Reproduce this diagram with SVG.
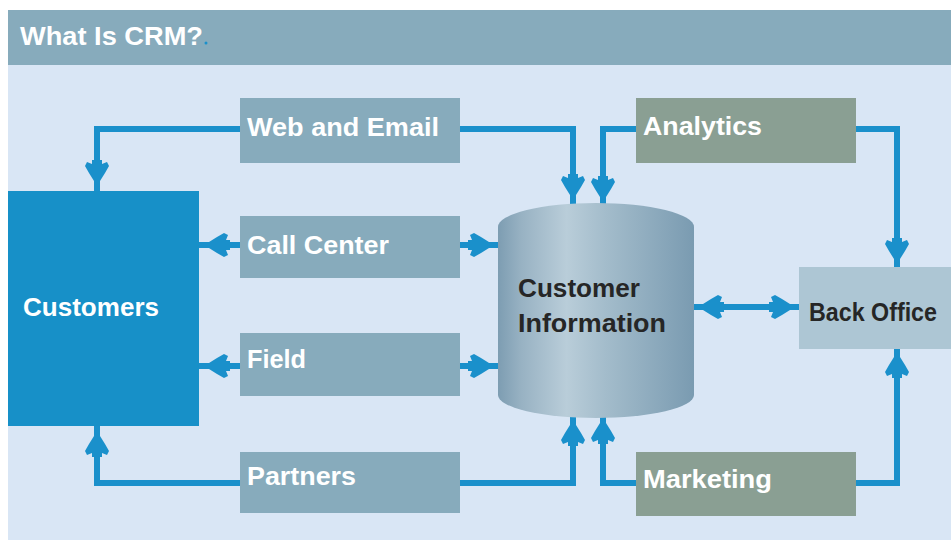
<svg xmlns="http://www.w3.org/2000/svg" width="951" height="540" viewBox="0 0 951 540">
<style>
.box{fill:#87abbc}
.grn{fill:#8a9f93}
.lbl{font-family:"Liberation Sans",Arial,sans-serif;font-weight:bold;font-size:26px;fill:#ffffff}
.dk{fill:#262626}
.conn{fill:none;stroke:#1a90cb;stroke-width:6}
</style>
<defs>
<marker id="ah" markerWidth="40" markerHeight="30" refX="0" refY="0" orient="auto-start-reverse" markerUnits="userSpaceOnUse" overflow="visible">
<path d="M2,-3 L-8,-3 L-16,-8 L-23,-12 L-27,-10 L-25,-5 L-29,-5 L-29,5 L-25,5 L-27,10 L-23,12 L-16,8 L-8,3 L2,3 Z" fill="#1a90cb"/>
</marker>
<linearGradient id="cyl" x1="0" y1="0" x2="1" y2="0">
<stop offset="0" stop-color="#7d9db2"/>
<stop offset="0.12" stop-color="#98b2c3"/>
<stop offset="0.35" stop-color="#b9cdd9"/>
<stop offset="0.55" stop-color="#a3bccb"/>
<stop offset="1" stop-color="#7a9bb1"/>
</linearGradient>
</defs>
<rect x="0" y="0" width="951" height="540" fill="#ffffff"/>
<rect x="8" y="65" width="943" height="475" fill="#d9e6f5"/>
<g id="title">
<rect x="8" y="10" width="943" height="55" fill="#87abbc"/>
<text class="lbl" x="20" y="45" textLength="183" lengthAdjust="spacingAndGlyphs">What Is CRM?</text>
<circle cx="206" cy="43" r="1.5" fill="#1a90cb"/>
</g>
<g id="connectors">
<path class="conn" d="M240,129 H97 V189" marker-end="url(#ah)"/>
<path class="conn" d="M240,483 H97 V428" marker-end="url(#ah)"/>
<path class="conn" d="M240,245 H201" marker-end="url(#ah)"/>
<path class="conn" d="M240,366 H201" marker-end="url(#ah)"/>
<path class="conn" d="M460,245 H497" marker-end="url(#ah)"/>
<path class="conn" d="M460,366 H497" marker-end="url(#ah)"/>
<path class="conn" d="M460,129 H573 V203" marker-end="url(#ah)"/>
<path class="conn" d="M636,129 H603 V205" marker-end="url(#ah)"/>
<path class="conn" d="M460,483 H573 V417" marker-end="url(#ah)"/>
<path class="conn" d="M636,483 H603 V415" marker-end="url(#ah)"/>
<path class="conn" d="M856,129 H897 V267" marker-end="url(#ah)"/>
<path class="conn" d="M856,483 H897 V349" marker-end="url(#ah)"/>
<path class="conn" d="M695,307 H798" marker-start="url(#ah)" marker-end="url(#ah)"/>
</g>
<g id="customers">
<rect x="8" y="191" width="191" height="235" fill="#1790c8"/>
<text class="lbl" x="23" y="316" textLength="136" lengthAdjust="spacingAndGlyphs">Customers</text>
</g>
<g id="web">
<rect class="box" x="240" y="98" width="220" height="65"/>
<text class="lbl" x="247" y="136" textLength="192" lengthAdjust="spacingAndGlyphs">Web and Email</text>
</g>
<g id="callcenter">
<rect class="box" x="240" y="216" width="220" height="62"/>
<text class="lbl" x="247" y="254" textLength="142" lengthAdjust="spacingAndGlyphs">Call Center</text>
</g>
<g id="field">
<rect class="box" x="240" y="333" width="220" height="63"/>
<text class="lbl" x="247" y="368" textLength="59" lengthAdjust="spacingAndGlyphs">Field</text>
</g>
<g id="partners">
<rect class="box" x="240" y="452" width="220" height="61"/>
<text class="lbl" x="247" y="485" textLength="109" lengthAdjust="spacingAndGlyphs">Partners</text>
</g>
<g id="analytics">
<rect class="grn" x="636" y="98" width="220" height="65"/>
<text class="lbl" x="643" y="135" textLength="119" lengthAdjust="spacingAndGlyphs">Analytics</text>
</g>
<g id="marketing">
<rect class="grn" x="636" y="452" width="220" height="64"/>
<text class="lbl" x="643" y="488" textLength="129" lengthAdjust="spacingAndGlyphs">Marketing</text>
</g>
<g id="customerinfo">
<path d="M498,227 A98,24 0 0 1 694,227 V395 A98,23 0 0 1 498,395 Z" fill="url(#cyl)"/>
<text class="lbl dk" x="518" y="297" textLength="122" lengthAdjust="spacingAndGlyphs">Customer</text>
<text class="lbl dk" x="518" y="332" textLength="148" lengthAdjust="spacingAndGlyphs">Information</text>
</g>
<g id="backoffice">
<rect x="799" y="267" width="152" height="82" fill="#adc6d4"/>
<text class="lbl dk" x="809" y="321" font-size="24" textLength="128" lengthAdjust="spacingAndGlyphs">Back Office</text>
</g>
</svg>
